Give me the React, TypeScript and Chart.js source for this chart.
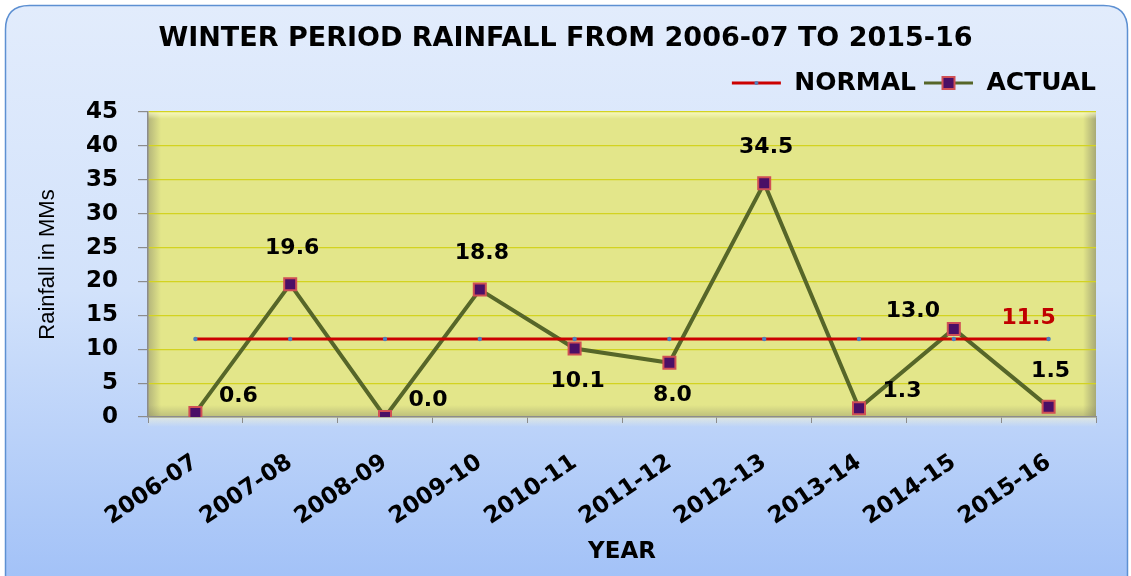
import { useEffect, useRef } from "react";
import { Chart, registerables } from "chart.js";

Chart.register(...registerables);

const categories = ["2006-07", "2007-08", "2008-09", "2009-10", "2010-11", "2011-12", "2012-13", "2013-14", "2014-15", "2015-16"];
const normalValues = [11.5, 11.5, 11.5, 11.5, 11.5, 11.5, 11.5, 11.5, 11.5, 11.5];
const actualValues = [0.6, 19.6, 0.0, 18.8, 10.1, 8.0, 34.5, 1.3, 13.0, 1.5];
const actualLabelSide = ["ne", "n", "ne", "n", "s", "s", "n", "ne", "nw", "n"];
const yMin = 0;
const yMax = 45;
const yStep = 5;
const titleText = "WINTER PERIOD RAINFALL FROM 2006-07 TO 2015-16";
const yTitle = "Rainfall in MMs";
const xTitle = "YEAR";
const seriesNames = ["NORMAL", "ACTUAL"];

const FONT = "DejaVu Sans";
const RED = "#cc0000";
const OLIVE = "#566629";
const MARK_FILL = "#4a0f66";
const MARK_BORDER = "#cf4f55";
const DOT = "#4f81bd";

const sideOffsets: Record<string, [number, number]> = {
  n: [2, -36],
  ne: [43, -17],
  s: [3, 33],
  nw: [-41, -18],
};

function legendIcon(kind: number): HTMLCanvasElement {
  const c = document.createElement("canvas");
  c.width = 58;
  c.height = 16;
  const g = c.getContext("2d")!;
  g.lineWidth = 3;
  g.strokeStyle = kind === 0 ? RED : OLIVE;
  g.beginPath();
  g.moveTo(8, 8);
  g.lineTo(57, 8);
  g.stroke();
  if (kind === 0) {
    g.fillStyle = DOT;
    g.beginPath();
    g.arc(32.5, 8, 2, 0, Math.PI * 2);
    g.fill();
  } else {
    g.fillStyle = MARK_FILL;
    g.fillRect(26.5, 2, 12, 12);
    g.strokeStyle = MARK_BORDER;
    g.lineWidth = 2;
    g.strokeRect(26.5, 2, 12, 12);
  }
  return c;
}

const backgroundPlugin = {
  id: "bgPlugin",
  beforeDraw(chart: any) {
    const { ctx, chartArea } = chart;
    const W = chart.width;
    ctx.save();
    const x0 = 5.5, y0 = 5.5, x1 = W - 3.5, y1 = 640, r = 24;
    const grad = ctx.createLinearGradient(0, 5, 0, 576);
    grad.addColorStop(0, "#e2ecfc");
    grad.addColorStop(0.5, "#d2e2fb");
    grad.addColorStop(1, "#a3c2f7");
    ctx.beginPath();
    ctx.moveTo(x0 + r, y0);
    ctx.lineTo(x1 - r, y0);
    ctx.quadraticCurveTo(x1, y0, x1, y0 + r);
    ctx.lineTo(x1, y1);
    ctx.lineTo(x0, y1);
    ctx.lineTo(x0, y0 + r);
    ctx.quadraticCurveTo(x0, y0, x0 + r, y0);
    ctx.closePath();
    ctx.fillStyle = grad;
    ctx.fill();
    ctx.lineWidth = 1.5;
    ctx.strokeStyle = "#5d90d2";
    ctx.stroke();

    const { left, top, right, bottom } = chartArea;
    ctx.fillStyle = "#e3e68a";
    ctx.fillRect(left, top, right - left, bottom - top);
    let g = ctx.createLinearGradient(left, 0, left + 13, 0);
    g.addColorStop(0, "rgba(140,140,110,0.55)");
    g.addColorStop(1, "rgba(140,140,110,0)");
    ctx.fillStyle = g;
    ctx.fillRect(left, top, 13, bottom - top);
    g = ctx.createLinearGradient(right - 13, 0, right, 0);
    g.addColorStop(0, "rgba(120,120,100,0)");
    g.addColorStop(1, "rgba(120,120,100,0.55)");
    ctx.fillStyle = g;
    ctx.fillRect(right - 13, top, 13, bottom - top);
    g = ctx.createLinearGradient(0, top, 0, top + 7);
    g.addColorStop(0, "rgba(255,255,210,0.75)");
    g.addColorStop(1, "rgba(255,255,210,0)");
    ctx.fillStyle = g;
    ctx.fillRect(left, top, right - left, 7);
    g = ctx.createLinearGradient(0, bottom - 12, 0, bottom);
    g.addColorStop(0, "rgba(130,130,100,0)");
    g.addColorStop(1, "rgba(130,130,100,0.4)");
    ctx.fillStyle = g;
    ctx.fillRect(left, bottom - 12, right - left, 12);
    g = ctx.createLinearGradient(0, bottom, 0, bottom + 10);
    g.addColorStop(0, "rgba(225,232,225,0.95)");
    g.addColorStop(1, "rgba(225,232,225,0)");
    ctx.fillStyle = g;
    ctx.fillRect(left, bottom, right - left, 10);
    ctx.restore();
  },
};

const labelPlugin = {
  id: "valueLabels",
  afterDatasetsDraw(chart: any) {
    const { ctx } = chart;
    ctx.save();
    ctx.textAlign = "center";
    ctx.textBaseline = "middle";
    ctx.font = `bold 22px "${FONT}"`;
    const metaA = chart.getDatasetMeta(1);
    metaA.data.forEach((pt: any, i: number) => {
      const off = sideOffsets[actualLabelSide[i]] || [0, -30];
      ctx.fillStyle = "#000000";
      ctx.fillText(actualValues[i].toFixed(1), pt.x + off[0], pt.y + off[1]);
    });
    const metaN = chart.getDatasetMeta(0);
    const last = metaN.data[metaN.data.length - 1];
    if (last) {
      ctx.fillStyle = "#c00000";
      ctx.fillText(normalValues[normalValues.length - 1].toFixed(1), last.x - 20, last.y - 21);
    }
    ctx.restore();
  },
};

const legendPatchPlugin = {
  id: "legendPatch",
  beforeLayout(chart: any) {
    const lg = chart.legend;
    if (lg && !lg.__patched) {
      const f = lg.fit;
      lg.fit = function (this: any) {
        f.call(this);
        this.height += 6.5;
      };
      lg.__patched = true;
    }
  },
};

export default function App() {
  const ref = useRef<HTMLCanvasElement | null>(null);
  useEffect(() => {
    document.body.style.margin = "0";
    if (!ref.current) return;
    const icons = [legendIcon(0), legendIcon(1)];
    const chart = new Chart(ref.current, {
      type: "line",
      data: {
        labels: categories,
        datasets: [
          {
            label: seriesNames[0],
            data: normalValues,
            borderColor: RED,
            borderWidth: 3,
            pointRadius: 2.2,
            pointBackgroundColor: DOT,
            pointBorderWidth: 0,
            tension: 0,
          },
          {
            label: seriesNames[1],
            data: actualValues,
            borderColor: OLIVE,
            borderWidth: 4,
            pointStyle: "rect",
            pointRadius: 8.5,
            pointBackgroundColor: MARK_FILL,
            pointBorderColor: MARK_BORDER,
            pointBorderWidth: 2,
            tension: 0,
          },
        ],
      },
      options: {
        animation: false,
        responsive: false,
        layout: { padding: { left: 35, right: 35, top: 0, bottom: 0 } },
        plugins: {
          title: {
            display: true,
            text: titleText,
            color: "#000",
            font: { family: FONT, weight: "bold", size: 27 },
            padding: { top: 22.8, bottom: 15.3 },
          },
          legend: {
            display: true,
            position: "top",
            align: "end",
            labels: {
              usePointStyle: true,
              pointStyleWidth: 58,
              padding: 0,
              color: "#000",
              font: { family: FONT, weight: "bold", size: 25 },
              generateLabels: () =>
                seriesNames.map((t, i) => ({
                  text: t,
                  fillStyle: i === 0 ? RED : OLIVE,
                  strokeStyle: i === 0 ? RED : OLIVE,
                  lineWidth: 0,
                  pointStyle: icons[i],
                  hidden: false,
                  datasetIndex: i,
                  fontColor: "#000",
                })),
            },
          },
          tooltip: { enabled: false },
        },
        scales: {
          x: {
            offset: true,
            ticks: {
              color: "#000",
              font: { family: FONT, weight: "bold", size: 23 },
              minRotation: 34,
              maxRotation: 34,
              padding: 26,
              autoSkip: false,
            },
            grid: { drawOnChartArea: false, drawTicks: true, tickLength: 6, tickColor: "#8c8c8c", offset: true },
            border: { display: true, color: "#8c8c8c", width: 1.5 },
            title: {
              display: true,
              text: xTitle,
              color: "#000",
              font: { family: FONT, weight: "bold", size: 23 },
              padding: { top: 0, bottom: 10 },
            },
            afterFit: (s: any) => {
              s.height = 159;
            },
          },
          y: {
            min: yMin,
            max: yMax,
            ticks: {
              stepSize: yStep,
              color: "#000",
              font: { family: FONT, weight: "bold", size: 23 },
              padding: 20,
            },
            grid: { color: "#d3d320", lineWidth: 1.2, tickColor: "#8c8c8c", tickLength: 10 },
            border: { display: true, color: "#8c8c8c", width: 1.5 },
            title: {
              display: true,
              text: yTitle,
              color: "#000",
              font: { family: "Liberation Sans", size: 22 },
              padding: { top: 0, bottom: 0 },
            },
            afterFit: (s: any) => {
              s.width = 113;
            },
          },
        },
      },
      plugins: [backgroundPlugin, labelPlugin, legendPatchPlugin],
    } as any);
    return () => chart.destroy();
  }, []);
  return (
    <div style={{ width: 1131, height: 576 }}>
      <canvas ref={ref} width={1131} height={576} style={{ display: "block" }} />
    </div>
  );
}
